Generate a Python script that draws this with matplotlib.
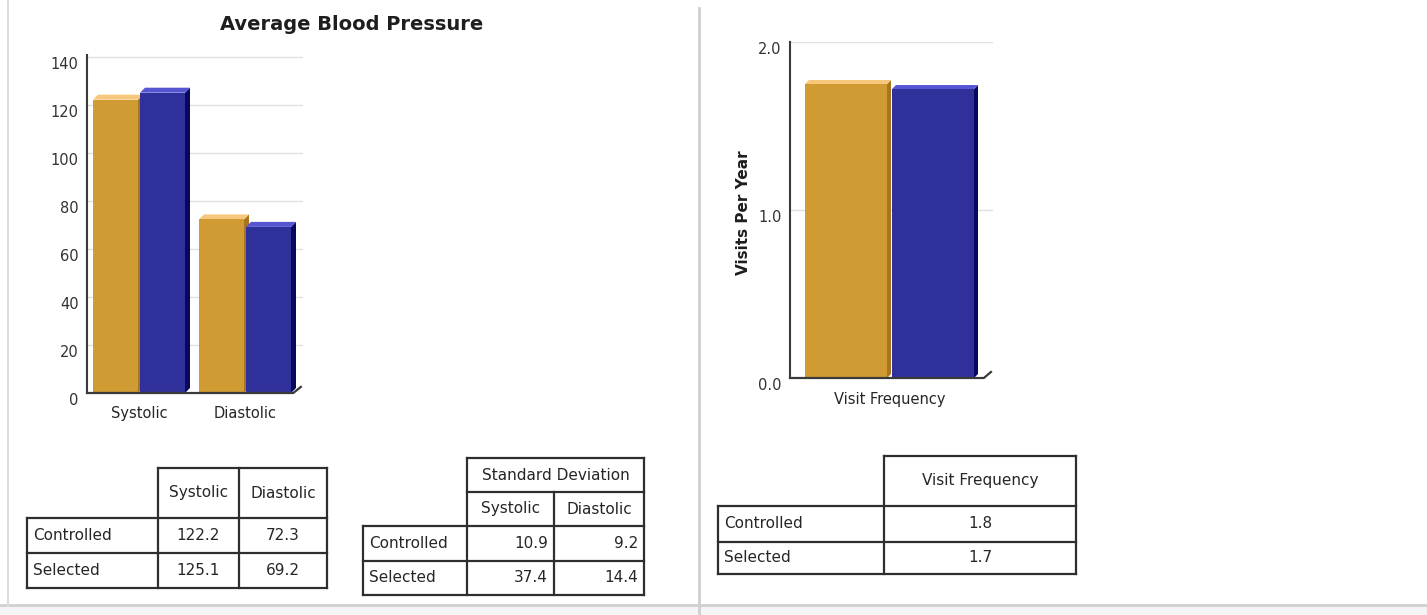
import matplotlib
matplotlib.use("Agg")
import matplotlib.pyplot as plt
from matplotlib.patches import Polygon, Rectangle
from matplotlib.lines import Line2D
from matplotlib.transforms import ScaledTranslation

plt.rcParams['font.family'] = ['DejaVu Sans']

# ---------------- data ----------------
bp_categories = ["Systolic", "Diastolic"]
bp_controlled = [122.2, 72.3]
bp_selected = [125.1, 69.2]
bp_ticks = [0, 20, 40, 60, 80, 100, 120, 140]

visit_categories = ["Visit Frequency"]
visit_controlled = [1.75]
visit_selected = [1.72]
visit_ticks = [0.0, 1.0, 2.0]

series_names = ["Controlled", "Selected"]
mean_table_header = ["Systolic", "Diastolic"]
mean_table_values = [["122.2", "72.3"], ["125.1", "69.2"]]
sd_table_title = "Standard Deviation"
sd_table_header = ["Systolic", "Diastolic"]
sd_table_values = [["10.9", "9.2"], ["37.4", "14.4"]]
visit_table_header = ["Visit Frequency"]
visit_table_values = [["1.8"], ["1.7"]]

# ---------------- styling ----------------
W, H = 1427, 615
fig = plt.figure(figsize=(W / 100, H / 100), dpi=100)
fig.patch.set_facecolor("white")

ORANGE = ("#D09B33", "#F7C77C", "#A8741E")   # front, top, side
BLUE = ("#30309A", "#5656D2", "#08085C")
TXT = "#262626"
AX = "#3A3A3A"


def px_axes(left, top, right, bottom):
    return fig.add_axes([left / W, 1 - bottom / H, (right - left) / W, (bottom - top) / H])


def bar3d(ax, x0, width, h, colors, dxp, dyp, ppx, ppy):
    dx, dy = dxp / ppx, dyp / ppy
    front, top, side = colors
    ax.add_patch(Polygon([(x0 + width, 0), (x0 + width + dx, dy), (x0 + width + dx, h + dy),
                          (x0 + width, h)], closed=True, facecolor=side, edgecolor="none", zorder=3))
    ax.add_patch(Polygon([(x0, h), (x0 + width, h), (x0 + width + dx, h + dy), (x0 + dx, h + dy)],
                         closed=True, facecolor=top, edgecolor="none", zorder=3))
    ax.add_patch(Rectangle((x0, 0), width, h, facecolor=front, edgecolor="none", zorder=4))


def style_axes(ax, ticks, fmt, ylim):
    ax.set_ylim(*ylim)
    ax.set_yticks(ticks)
    ax.set_yticklabels([fmt(t) for t in ticks], fontsize=10.5, color="#333333")
    ax.tick_params(axis="y", length=0, pad=6)
    ax.tick_params(axis="x", length=0)
    ax.set_xticks([])
    for lab in ax.get_yticklabels():
        lab.set_transform(lab.get_transform() + ScaledTranslation(0, -0.06, fig.dpi_scale_trans))
    for s in ["top", "right", "bottom"]:
        ax.spines[s].set_visible(False)
    ax.spines["left"].set_color(AX)
    ax.spines["left"].set_linewidth(1.5)
    for t in ticks[1:]:
        ax.axhline(t, color="#E0E0E0", lw=1.0, zorder=1)
    ax.add_line(Line2D([0, 0.955, 0.99], [0, 0, 0.018], transform=ax.transAxes,
                       color=AX, lw=1.6, zorder=5, clip_on=False))
    ax.set_facecolor("none")


# ---------- left chart ----------
ax1 = px_axes(87, 55, 303, 393)
ppy1 = 338 / 140.8
ppx1 = 106.0
ax1.set_xlim(-52 / ppx1, 164 / ppx1)
bw1 = 45 / ppx1
for i, cat in enumerate(bp_categories):
    bar3d(ax1, i - bw1 - 1 / ppx1, bw1, bp_controlled[i], ORANGE, 5, 5, ppx1, ppy1)
    bar3d(ax1, i + 1 / ppx1, bw1, bp_selected[i], BLUE, 5, 5, ppx1, ppy1)
style_axes(ax1, bp_ticks, lambda t: f"{t:d}", (0, 140.8))
for i, cat in enumerate(bp_categories):
    ax1.text(i, -8.5, cat, ha="center", va="center", fontsize=10.5, color=TXT, clip_on=False)
fig.text(352 / W, 1 - 25 / H, "Average Blood Pressure", ha="center", va="center",
         fontsize=14, fontweight="bold", color="#1E1E1E")

# ---------- right chart ----------
ax2 = px_axes(790, 42, 993, 378)
ppy2 = 336 / 2.0
ppx2 = 100.0
ax2.set_xlim(-99.5 / ppx2, 103.5 / ppx2)
bw2 = 82 / ppx2
for i, cat in enumerate(visit_categories):
    bar3d(ax2, i - bw2 - 2.5 / ppx2, bw2, visit_controlled[i], ORANGE, 4, 4, ppx2, ppy2)
    bar3d(ax2, i + 2.5 / ppx2, bw2, visit_selected[i], BLUE, 4, 4, ppx2, ppy2)
style_axes(ax2, visit_ticks, lambda t: f"{t:.1f}", (0, 2.0))
for i, cat in enumerate(visit_categories):
    ax2.text(i, -0.13, cat, ha="center", va="center", fontsize=10.5, color=TXT, clip_on=False)
fig.text(743 / W, 1 - 213 / H, "Visits Per Year", ha="center", va="center", rotation=90,
         fontsize=11, fontweight="bold", color="#1E1E1E")

# ---------- tables ----------
tax = fig.add_axes([0, 0, 1, 1])
tax.set_xlim(0, W)
tax.set_ylim(H, 0)
tax.axis("off")
tax.set_zorder(-1)

LW = 1.6
LC = "#2E2E2E"
FS = 11


def hline(x0, x1, y):
    tax.plot([x0, x1], [y, y], color=LC, lw=LW, solid_capstyle="projecting")


def vline(x, y0, y1):
    tax.plot([x, x], [y0, y1], color=LC, lw=LW, solid_capstyle="projecting")


def txt(x, y, s, ha="center"):
    tax.text(x, y, s, ha=ha, va="center", fontsize=FS, color=TXT)


# table 1
xs = [27, 158, 239, 327]
ys_head = (468, 518)
ys = [518, 553, 588]
hline(xs[1], xs[3], ys_head[0])
hline(xs[0], xs[3], ys[0])
hline(xs[0], xs[3], ys[1])
hline(xs[0], xs[3], ys[2])
vline(xs[0], ys[0], ys[2])
for x in xs[1:]:
    vline(x, ys_head[0], ys[2])
for j, h in enumerate(mean_table_header):
    txt((xs[j + 1] + xs[j + 2]) / 2, (ys_head[0] + ys_head[1]) / 2, h)
for r, name in enumerate(series_names):
    yc = (ys[r] + ys[r + 1]) / 2
    txt(xs[0] + 6, yc, name, ha="left")
    for j, v in enumerate(mean_table_values[r]):
        txt((xs[j + 1] + xs[j + 2]) / 2, yc, v)

# table 2
xs = [363, 467, 554, 644]
yt = [458, 492, 526, 561, 595]
hline(xs[1], xs[3], yt[0])
hline(xs[1], xs[3], yt[1])
hline(xs[0], xs[3], yt[2])
hline(xs[0], xs[3], yt[3])
hline(xs[0], xs[3], yt[4])
vline(xs[0], yt[2], yt[4])
vline(xs[1], yt[0], yt[4])
vline(xs[2], yt[1], yt[4])
vline(xs[3], yt[0], yt[4])
txt((xs[1] + xs[3]) / 2, (yt[0] + yt[1]) / 2, sd_table_title)
for j, h in enumerate(sd_table_header):
    txt((xs[j + 1] + xs[j + 2]) / 2, (yt[1] + yt[2]) / 2, h)
for r, name in enumerate(series_names):
    yc = (yt[r + 2] + yt[r + 3]) / 2
    txt(xs[0] + 6, yc, name, ha="left")
    for j, v in enumerate(sd_table_values[r]):
        txt(xs[j + 2] - 6, yc, v, ha="right")

# table 3
xs = [718, 884, 1076]
yt = [456, 506, 542, 574]
hline(xs[1], xs[2], yt[0])
hline(xs[0], xs[2], yt[1])
hline(xs[0], xs[2], yt[2])
hline(xs[0], xs[2], yt[3])
vline(xs[0], yt[1], yt[3])
vline(xs[1], yt[0], yt[3])
vline(xs[2], yt[0], yt[3])
txt((xs[1] + xs[2]) / 2, (yt[0] + yt[1]) / 2, visit_table_header[0])
for r, name in enumerate(series_names):
    yc = (yt[r + 1] + yt[r + 2]) / 2
    txt(xs[0] + 6, yc, name, ha="left")
    txt((xs[1] + xs[2]) / 2, yc, visit_table_values[r][0])

# panel borders
tax.add_patch(Rectangle((0, 605), W, H - 605, facecolor="#F4F4F4", edgecolor="none"))
tax.plot([0, W], [605, 605], color="#D0D0D0", lw=2)
tax.plot([8, 8], [0, 605], color="#DCDCDC", lw=1.5)
tax.plot([699, 699], [8, H], color="#CFCFCF", lw=2)

fig.savefig("out.png", dpi=100, facecolor="white")
